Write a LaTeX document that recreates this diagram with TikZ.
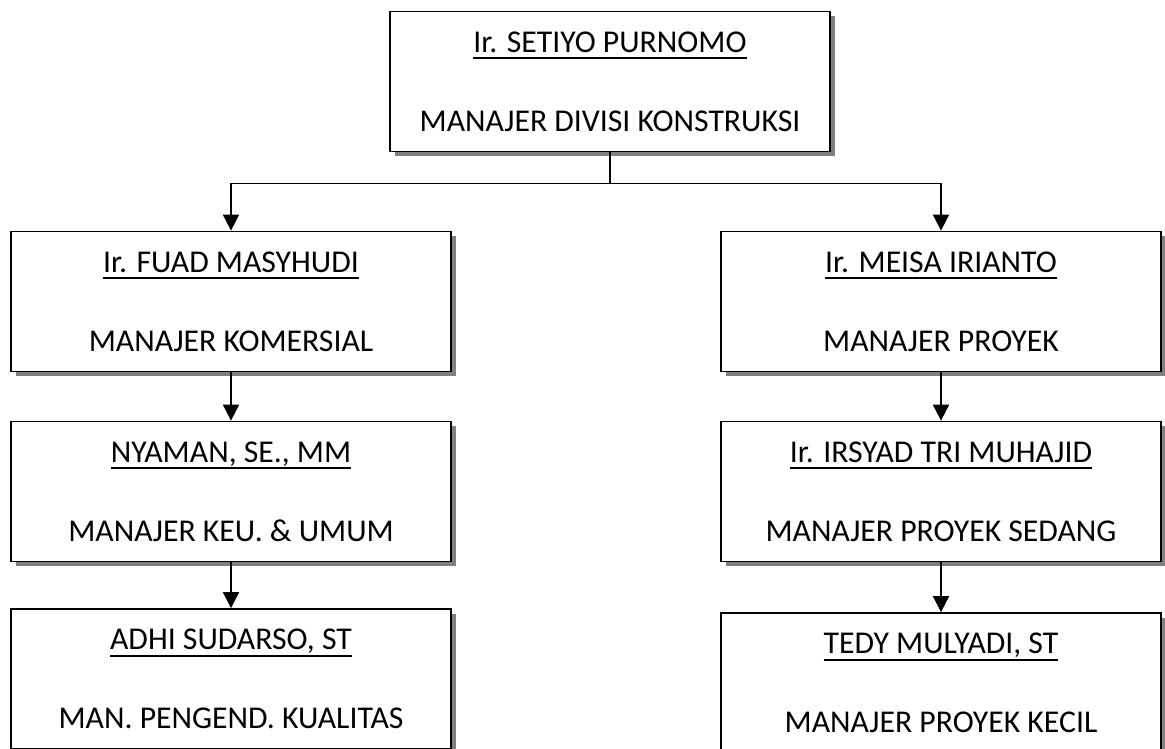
\documentclass[tikz,border=0pt]{standalone}
\usepackage{fontspec}
\setmainfont{Carlito}
\usetikzlibrary{arrows.meta,shadows}

\newcommand{\garis}[1]{\setbox0\hbox{#1}\leavevmode\rlap{\rule[-5pt]{\wd0}{1.2pt}}\box0}
\newcommand{\isi}[2]{\garis{#1}\\[31pt]#2}

\tikzset{
  jabatan/.style={draw, line width=1.3pt, fill=white, minimum width=330pt, minimum height=105pt,
    inner sep=0pt, align=center, font=\fontsize{23.8}{28}\selectfont,
    general shadow={fill=black!50, shadow xshift=3.5pt, shadow yshift=-3.5pt}},
  panah/.style={-{Triangle[width=12pt,length=12pt]}, line width=1.3pt}
}

\begin{document}
\begin{tikzpicture}[x=0.75pt, y=-0.75pt]

\useasboundingbox (0,0) rectangle (1165,749);
\clip (0,0) rectangle (1165,749);

% Kepala divisi
\node[jabatan] (dir) at (610,81.5) {\isi{Ir. SETIYO PURNOMO}{MANAJER DIVISI KONSTRUKSI}};

% Kolom kiri
\node[jabatan] (kom)  at (231,301.5) {\isi{Ir. FUAD MASYHUDI}{MANAJER KOMERSIAL}};
\node[jabatan] (keu)  at (231,491.5) {\isi{NYAMAN, SE., MM}{MANAJER KEU. \& UMUM}};
\node[jabatan] (mutu) at (231,679)   {\isi{ADHI SUDARSO, ST}{MAN. PENGEND. KUALITAS}};

% Kolom kanan
\node[jabatan] (proy)   at (941,301.5) {\isi{Ir. MEISA IRIANTO}{MANAJER PROYEK}};
\node[jabatan] (sedang) at (941,491.5) {\isi{Ir. IRSYAD TRI MUHAJID}{MANAJER PROYEK SEDANG}};
\node[jabatan] (kecil)  at (941,683)   {\isi{TEDY MULYADI, ST}{MANAJER PROYEK KECIL}};

% Garis hubung
\draw[panah] (dir.south) -- ++(0,31) -| (kom.north);
\draw[panah] (dir.south) -- ++(0,31) -| (proy.north);
\draw[panah] (kom.south) -- (keu.north);
\draw[panah] (keu.south) -- (mutu.north);
\draw[panah] (proy.south) -- (sedang.north);
\draw[panah] (sedang.south) -- (kecil.north);

\end{tikzpicture}
\end{document}
